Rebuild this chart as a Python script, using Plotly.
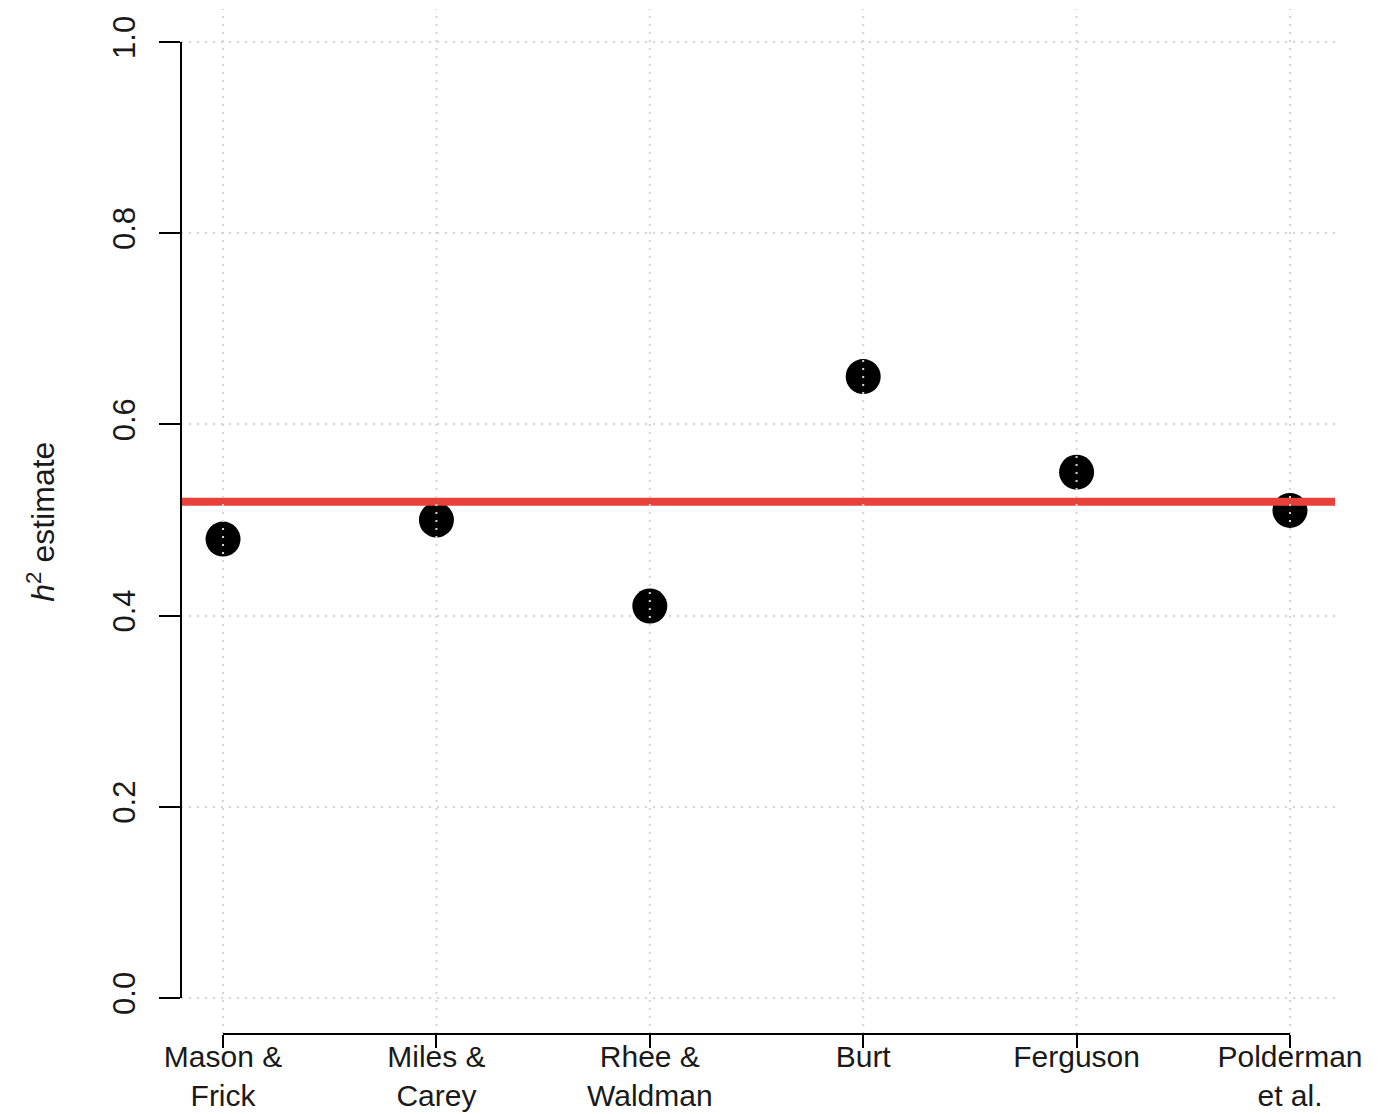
import plotly.graph_objects as go

# Heritability estimates from each study
studies = ["Mason &<br>Frick", "Miles &<br>Carey", "Rhee &<br>Waldman", "Burt", "Ferguson", "Polderman<br>et al."]
h2_estimates = [0.48, 0.50, 0.41, 0.65, 0.55, 0.51]
pooled_estimate = 0.519
y_ticks = [0.0, 0.2, 0.4, 0.6, 0.8, 1.0]
y_tick_labels = ["0.0", "0.2", "0.4", "0.6", "0.8", "1.0"]

positions = list(range(1, len(studies) + 1))

FONT = "Liberation Sans, Arial, Helvetica, sans-serif"
TEXT = "#1a1a1a"

fig = go.Figure()

fig.add_trace(go.Scatter(
    x=positions,
    y=h2_estimates,
    mode="markers",
    marker=dict(size=35, color="black", line=dict(width=0)),
    showlegend=False,
    hoverinfo="x+y",
))

shapes = []
# pooled estimate line across the whole panel
shapes.append(dict(type="line", xref="paper", yref="y", x0=0, x1=1,
                   y0=pooled_estimate, y1=pooled_estimate,
                   line=dict(color="#e8413a", width=8), layer="above"))
# vertical dotted guides at each study, drawn over the points
for p in positions:
    shapes.append(dict(type="line", xref="x", yref="paper", x0=p, x1=p, y0=0, y1=1,
                       line=dict(color="#d4d4d4", width=2, dash="2px,6px"), layer="above"))
# axis lines spanning only the tick range
shapes.append(dict(type="line", xref="paper", yref="y", x0=0, x1=0, y0=y_ticks[0], y1=y_ticks[-1],
                   line=dict(color="black", width=2), layer="above"))
shapes.append(dict(type="line", xref="x", yref="paper", x0=positions[0], x1=positions[-1], y0=0, y1=0,
                   line=dict(color="black", width=2), layer="above"))

fig.update_layout(
    width=1379,
    height=1114,
    margin=dict(l=181, r=44, t=9, b=80),
    paper_bgcolor="white",
    plot_bgcolor="white",
    font=dict(family=FONT, size=31, color=TEXT),
    shapes=shapes,
    annotations=[dict(
        text="<i>h</i><sup>2</sup> estimate",
        xref="paper", yref="paper", x=-0.122, y=0.5,
        xanchor="center", yanchor="middle", textangle=-90,
        showarrow=False, font=dict(family=FONT, size=32, color=TEXT),
    )],
    xaxis=dict(
        range=[0.803, 6.211],
        automargin=False,
        tickmode="array",
        tickvals=positions,
        ticktext=studies,
        ticks="outside",
        ticklen=13,
        tickwidth=2,
        tickcolor="black",
        ticklabelstandoff=-17,
        showgrid=False,
        showline=False,
        zeroline=False,
        tickfont=dict(family=FONT, size=30, color=TEXT),
    ),
    yaxis=dict(
        range=[-0.0377, 1.0345],
        automargin=False,
        tickmode="array",
        tickvals=y_ticks,
        ticktext=y_tick_labels,
        tickangle=-90,
        ticks="outside",
        ticklen=21,
        tickwidth=2,
        tickcolor="black",
        ticklabelstandoff=12,
        showgrid=True,
        gridcolor="#d4d4d4",
        gridwidth=2,
        griddash="2px,6px",
        showline=False,
        zeroline=False,
        tickfont=dict(family=FONT, size=31, color=TEXT),
    ),
)

fig.write_html("out.html")
